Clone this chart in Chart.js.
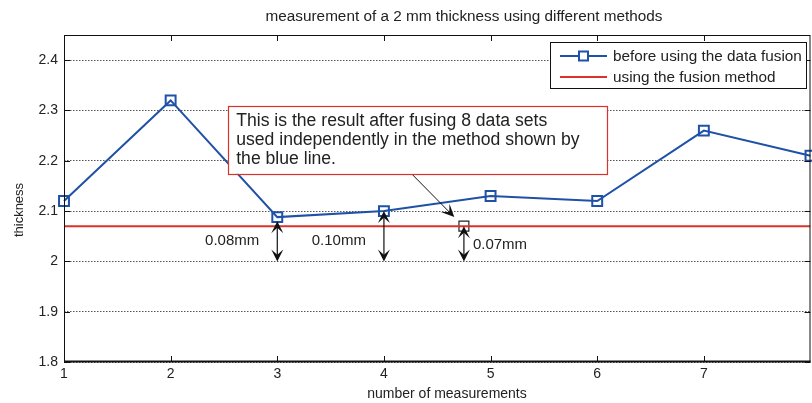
<!DOCTYPE html>
<html>
<head>
<meta charset="utf-8">
<script src="https://cdn.jsdelivr.net/npm/chart.js@4.4.1/dist/chart.umd.min.js"></script>
<style>
  html, body { margin: 0; padding: 0; background: #fff; overflow: hidden; }
  canvas { display: block; }
</style>
</head>
<body>
<canvas id="chart" width="812" height="403"></canvas>
<script>
// ---- data ----
const measurementNo = [1, 2, 3, 4, 5, 6, 7, 8];
const thicknessBefore = [2.12, 2.32, 2.088, 2.10, 2.13, 2.12, 2.26, 2.21];
const fusedThickness = 2.07;
const fusedPointX = 4.75;
const xTicks = [1, 2, 3, 4, 5, 6, 7];
const yTicks = [1.8, 1.9, 2.0, 2.1, 2.2, 2.3, 2.4];
const yTickLabels = ['1.8', '1.9', '2', '2.1', '2.2', '2.3', '2.4'];
const gapX = [3, 4, 4.75];
const gapSize = [0.08, 0.10, 0.07];
const gapLabels = ['0.08mm', '0.10mm', '0.07mm'];
const seriesNames = ['before using the data fusion', 'using the fusion method'];
const chartTitle = 'measurement of a 2 mm thickness using different methods';
const xTitle = 'number of measurements';
const yTitle = 'thickness';
const noteLines = [
  'This is the result after fusing 8 data sets',
  'used independently in the method shown by',
  'the blue line.'
];

// ---- styling ----
const FONT = "'Liberation Sans', Arial, Helvetica, sans-serif";
const BLUE = '#1f51a6';
const RED = '#d9342b';
const INK = '#222222';
const BASE = 2.0;

function arrowHead(ctx, tx, ty, angle, len, half) {
  const dx = Math.cos(angle), dy = Math.sin(angle);
  const px = -dy, py = dx;
  ctx.beginPath();
  ctx.moveTo(tx, ty);
  ctx.lineTo(tx - len * dx + half * px, ty - len * dy + half * py);
  ctx.lineTo(tx - 0.55 * len * dx, ty - 0.55 * len * dy);
  ctx.lineTo(tx - len * dx - half * px, ty - len * dy - half * py);
  ctx.closePath();
  ctx.fill();
}

const decorations = {
  id: 'decorations',
  afterDatasetsDraw(chart) {
    const { ctx, chartArea: a, scales: { x, y } } = chart;
    ctx.save();

    // axes box
    ctx.strokeStyle = '#111';
    ctx.lineWidth = 1;
    ctx.strokeRect(a.left + 0.5, a.top + 0.5, a.right - a.left - 1, a.bottom - a.top - 1);
    ctx.lineWidth = 2;
    ctx.beginPath();
    ctx.moveTo(a.left, a.bottom - 0.5);
    ctx.lineTo(a.right, a.bottom - 0.5);
    ctx.stroke();

    // inward ticks
    ctx.lineWidth = 1;
    ctx.beginPath();
    xTicks.forEach(v => {
      const px = Math.round(x.getPixelForValue(v)) + 0.5;
      ctx.moveTo(px, a.bottom); ctx.lineTo(px, a.bottom - 6);
      ctx.moveTo(px, a.top); ctx.lineTo(px, a.top + 6);
    });
    yTicks.forEach(v => {
      const py = Math.round(y.getPixelForValue(v)) + 0.5;
      ctx.moveTo(a.left, py); ctx.lineTo(a.left + 6, py);
      ctx.moveTo(a.right, py); ctx.lineTo(a.right - 6, py);
    });
    ctx.stroke();

    // titles
    ctx.fillStyle = INK;
    ctx.textAlign = 'center';
    ctx.textBaseline = 'middle';
    ctx.font = '15.3px ' + FONT;
    ctx.fillText(chartTitle, 464, 17);
    ctx.font = '14px ' + FONT;
    ctx.fillText(xTitle, 447, 394);
    ctx.save();
    ctx.translate(19, 210);
    ctx.rotate(-Math.PI / 2);
    ctx.font = '13px ' + FONT;
    ctx.fillText(yTitle, 0, 0);
    ctx.restore();

    // double arrows measuring the gap above 2 mm
    ctx.fillStyle = '#111';
    ctx.strokeStyle = '#111';
    ctx.font = '15px ' + FONT;
    ctx.textBaseline = 'middle';
    gapX.forEach((gx, i) => {
      const px = x.getPixelForValue(gx);
      const yTop = y.getPixelForValue(BASE + gapSize[i]);
      const yBot = y.getPixelForValue(BASE);
      ctx.lineWidth = 1.2;
      ctx.beginPath();
      ctx.moveTo(px, yTop + 5); ctx.lineTo(px, yBot - 5);
      ctx.stroke();
      arrowHead(ctx, px, yTop, -Math.PI / 2, 12, 6);
      arrowHead(ctx, px, yBot, Math.PI / 2, 12, 6);
      ctx.fillStyle = INK;
      if (i < 2) {
        ctx.textAlign = 'right';
        ctx.fillText(gapLabels[i], px - 18, y.getPixelForValue(BASE + 0.04));
      } else {
        ctx.textAlign = 'left';
        ctx.fillText(gapLabels[i], px + 9, y.getPixelForValue(BASE + 0.032));
      }
      ctx.fillStyle = '#111';
    });

    // note box with pointer to the fused value
    const bx1 = x.getPixelForValue(2.54), bx2 = x.getPixelForValue(6.09);
    const by1 = y.getPixelForValue(2.309), by2 = y.getPixelForValue(2.174);
    const sx = x.getPixelForValue(4.26), sy = by2;
    const ex = x.getPixelForValue(4.66), ey = y.getPixelForValue(2.088);
    ctx.strokeStyle = '#111';
    ctx.lineWidth = 1;
    ctx.beginPath();
    ctx.moveTo(sx, sy);
    const ang = Math.atan2(ey - sy, ex - sx);
    ctx.lineTo(ex - 6 * Math.cos(ang), ey - 6 * Math.sin(ang));
    ctx.stroke();
    arrowHead(ctx, ex, ey, ang, 13, 6);

    ctx.fillStyle = '#fff';
    ctx.fillRect(bx1, by1, bx2 - bx1, by2 - by1);
    ctx.strokeStyle = RED;
    ctx.lineWidth = 1.2;
    ctx.strokeRect(Math.round(bx1) + 0.5, Math.round(by1) + 0.5, Math.round(bx2 - bx1), Math.round(by2 - by1));
    ctx.fillStyle = INK;
    ctx.font = '17.6px ' + FONT;
    ctx.textAlign = 'left';
    ctx.textBaseline = 'middle';
    noteLines.forEach((t, i) => ctx.fillText(t, bx1 + 8, by1 + 15.5 + i * 19));

    // legend
    const lx1 = 550, lx2 = a.right - 4.5, ly1 = 42, ly2 = 88;
    ctx.fillStyle = '#fff';
    ctx.fillRect(lx1, ly1, lx2 - lx1, ly2 - ly1);
    ctx.strokeStyle = '#111';
    ctx.lineWidth = 1;
    ctx.strokeRect(lx1 + 0.5, ly1 + 0.5, lx2 - lx1, ly2 - ly1);
    const rows = [56, 77];
    const colors = [BLUE, RED];
    ctx.font = '15.3px ' + FONT;
    rows.forEach((ry, i) => {
      ctx.strokeStyle = colors[i];
      ctx.lineWidth = 2;
      ctx.beginPath();
      ctx.moveTo(560, ry); ctx.lineTo(607, ry);
      ctx.stroke();
      if (i === 0) {
        ctx.fillStyle = '#fff';
        ctx.fillRect(579, ry - 4.5, 9, 9);
        ctx.strokeRect(579, ry - 4.5, 9, 9);
      }
      ctx.fillStyle = INK;
      ctx.fillText(seriesNames[i], 613, ry + 0.5);
    });

    ctx.restore();
  }
};

new Chart(document.getElementById('chart'), {
  type: 'line',
  data: {
    datasets: [
      {
        label: seriesNames[0],
        data: measurementNo.map((m, i) => ({ x: m, y: thicknessBefore[i] })),
        borderColor: BLUE,
        borderWidth: 2,
        pointStyle: 'rect',
        pointRadius: 7,
        pointBorderWidth: 2,
        pointBorderColor: BLUE,
        pointBackgroundColor: 'rgba(255,255,255,0)',
        tension: 0,
        clip: false
      },
      {
        label: seriesNames[1],
        data: [{ x: measurementNo[0], y: fusedThickness }, { x: measurementNo[measurementNo.length - 1], y: fusedThickness }],
        borderColor: RED,
        borderWidth: 2,
        pointRadius: 0
      },
      {
        label: 'fused value',
        data: [{ x: fusedPointX, y: fusedThickness }],
        showLine: false,
        pointStyle: 'rect',
        pointRadius: 7,
        pointBorderWidth: 1.2,
        pointBorderColor: '#222',
        pointBackgroundColor: 'rgba(255,255,255,0)'
      }
    ]
  },
  options: {
    responsive: false,
    animation: false,
    events: [],
    layout: { autoPadding: false, padding: { left: 0, right: 1.5, top: 35, bottom: 0 } },
    plugins: {
      legend: { display: false },
      tooltip: { enabled: false },
      title: { display: false }
    },
    scales: {
      x: {
        type: 'linear',
        min: 1,
        max: 8,
        afterBuildTicks: s => { s.ticks = xTicks.map(v => ({ value: v })); },
        afterFit: s => { s.height = 41; s.paddingLeft = 0; s.paddingRight = 0; },
        grid: { display: false, drawTicks: false },
        border: { display: false },
        ticks: { color: INK, font: { family: FONT, size: 14 }, padding: 4, maxRotation: 0, autoSkip: false }
      },
      y: {
        type: 'linear',
        min: 1.8,
        max: 2.45,
        afterBuildTicks: s => { s.ticks = yTicks.map(v => ({ value: v })); },
        afterFit: s => { s.width = 64; s.paddingTop = 0; s.paddingBottom = 0; },
        grid: { color: '#555', lineWidth: 1, drawTicks: false },
        border: { display: false, dash: [1.5, 1.5] },
        ticks: {
          color: INK,
          font: { family: FONT, size: 14 },
          padding: 6,
          autoSkip: false,
          callback: (v, i) => yTickLabels[i]
        }
      }
    }
  },
  plugins: [decorations]
});
</script>
</body>
</html>
